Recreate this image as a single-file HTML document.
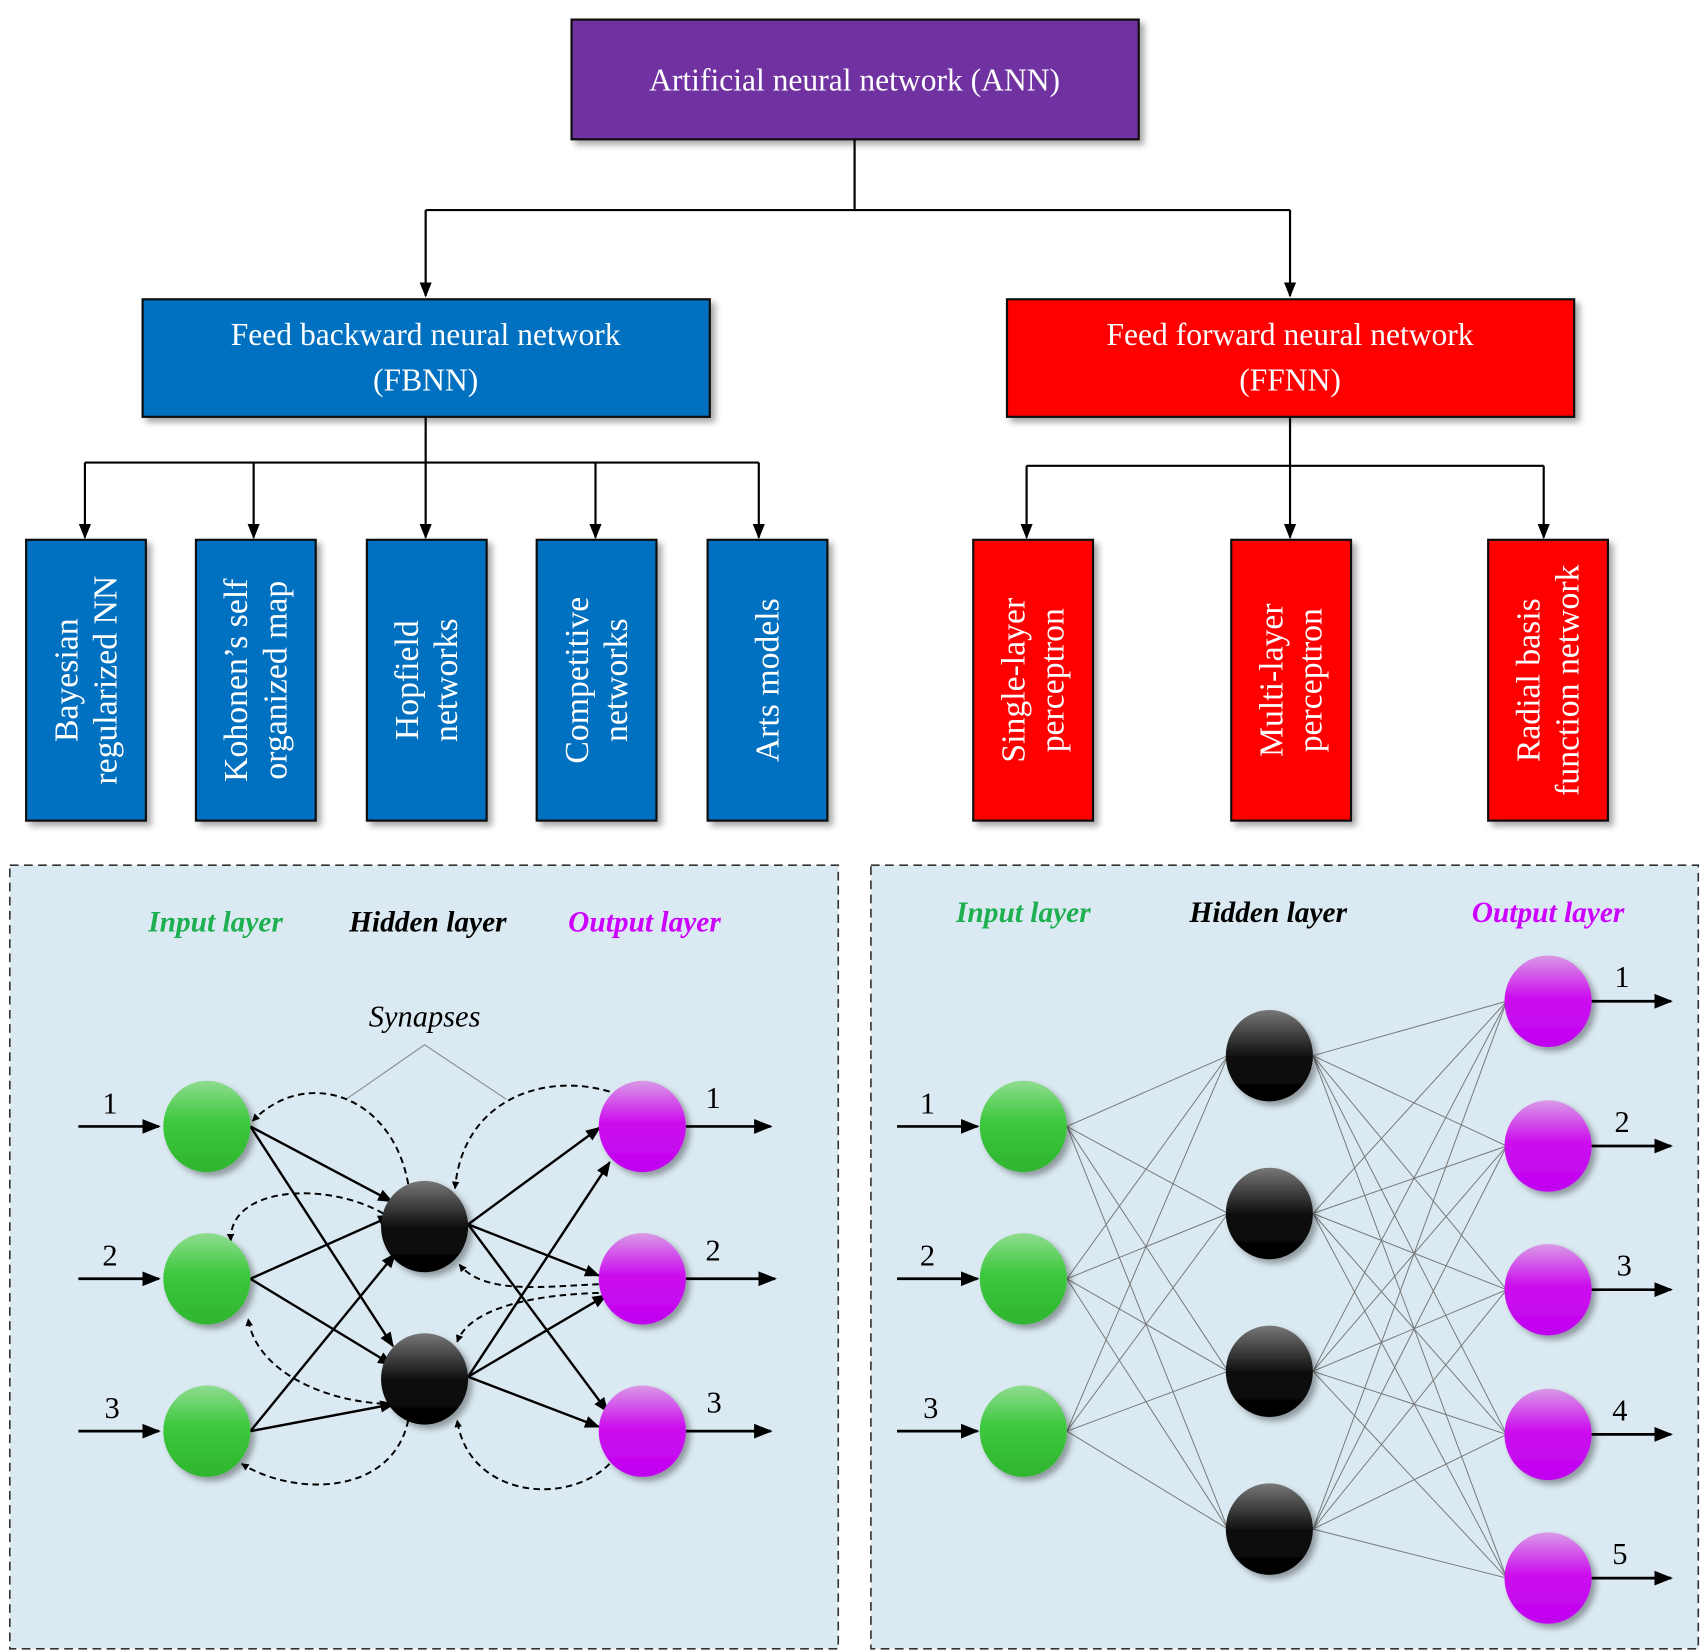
<!DOCTYPE html>
<html><head><meta charset="utf-8"><style>html,body{margin:0;padding:0;background:#fff}svg{display:block}</style></head>
<body>
<svg width="1707" height="1651" viewBox="0 0 1568 1517" preserveAspectRatio="none" xmlns="http://www.w3.org/2000/svg" font-family="'Liberation Serif', serif">
<defs>
<marker id="a" viewBox="0 0 10 10" refX="9" refY="5" markerWidth="7" markerHeight="7" orient="auto" markerUnits="userSpaceOnUse"><path d="M0,0L10,5L0,10z" fill="#000"/></marker>
<marker id="b" viewBox="0 0 10 10" refX="9" refY="5" markerWidth="14" markerHeight="14" orient="auto" markerUnits="userSpaceOnUse"><path d="M0,1L10,5L0,9z" fill="#000"/></marker>
<marker id="c" viewBox="0 0 10 10" refX="9" refY="5" markerWidth="17" markerHeight="17" orient="auto" markerUnits="userSpaceOnUse"><path d="M0,1L10,5L0,9z" fill="#000"/></marker>
<linearGradient id="g" x1="0" y1="0" x2="0" y2="1"><stop offset="0" stop-color="#8fdc8f"/><stop offset="0.45" stop-color="#3cc83c"/><stop offset="1" stop-color="#2fb52f"/></linearGradient>
<linearGradient id="k" x1="0" y1="0" x2="0" y2="1"><stop offset="0" stop-color="#777"/><stop offset="0.5" stop-color="#111"/><stop offset="1" stop-color="#000"/></linearGradient>
<linearGradient id="m" x1="0" y1="0" x2="0" y2="1"><stop offset="0" stop-color="#d99ae6"/><stop offset="0.45" stop-color="#cc11ee"/><stop offset="1" stop-color="#c000f0"/></linearGradient>
<filter id="s" x="-20%" y="-20%" width="150%" height="150%"><feDropShadow dx="4" dy="4" stdDeviation="3" flood-color="#000" flood-opacity="0.35"/></filter>
</defs>
<g filter="url(#s)" stroke="#111" stroke-width="2">
<rect x="525" y="18" width="521" height="110" fill="#7030a0"/>
<rect x="131" y="275" width="521" height="108" fill="#0070c0"/>
<rect x="925" y="275" width="521" height="108" fill="#ff0000"/>
<rect x="24" y="496" width="110" height="258" fill="#0070c0"/>
<rect x="180" y="496" width="110" height="258" fill="#0070c0"/>
<rect x="337" y="496" width="110" height="258" fill="#0070c0"/>
<rect x="493" y="496" width="110" height="258" fill="#0070c0"/>
<rect x="650" y="496" width="110" height="258" fill="#0070c0"/>
<rect x="894" y="496" width="110" height="258" fill="#ff0000"/>
<rect x="1131" y="496" width="110" height="258" fill="#ff0000"/>
<rect x="1367" y="496" width="110" height="258" fill="#ff0000"/>
</g>
<g fill="#fff" font-size="29" text-anchor="middle">
<text x="785" y="83">Artificial neural network (ANN)</text>
<text x="391" y="317">Feed backward neural network</text>
<text x="391" y="359">(FBNN)</text>
<text x="1185" y="317">Feed forward neural network</text>
<text x="1185" y="359">(FFNN)</text>
</g>
<g fill="#fff" font-size="31" text-anchor="middle">
<g transform="translate(79,625) rotate(-90)"><text y="-8">Bayesian</text><text y="28">regularized NN</text></g>
<g transform="translate(235,625) rotate(-90)"><text y="-8">Kohonen’s self</text><text y="28">organized map</text></g>
<g transform="translate(392,625) rotate(-90)"><text y="-8">Hopfield</text><text y="28">networks</text></g>
<g transform="translate(548,625) rotate(-90)"><text y="-8">Competitive</text><text y="28">networks</text></g>
<g transform="translate(705,625) rotate(-90)"><text y="10">Arts models</text></g>
<g transform="translate(949,625) rotate(-90)"><text y="-8">Single-layer</text><text y="28">perceptron</text></g>
<g transform="translate(1186,625) rotate(-90)"><text y="-8">Multi-layer</text><text y="28">perceptron</text></g>
<g transform="translate(1422,625) rotate(-90)"><text y="-8">Radial basis</text><text y="28">function network</text></g>
</g>
<g stroke="#000" stroke-width="2" fill="none">
<path d="M785,128V193M391,193H1185"/>
<path d="M391,383V425M78,425H697M1185,383V428M943,428H1418"/>
</g>
<g stroke="#000" stroke-width="2" fill="none" marker-end="url(#b)">
<path d="M391,193V272"/><path d="M1185,193V272"/>
<path d="M78,425V494"/><path d="M233,425V494"/><path d="M391,425V494"/><path d="M547,425V494"/><path d="M697,425V494"/>
<path d="M943,428V494"/><path d="M1185,428V494"/><path d="M1418,428V494"/>
</g>
<rect x="9" y="795" width="761" height="720" fill="#dbeaf2" stroke="#333" stroke-width="1.5" stroke-dasharray="8,5"/>
<rect x="800" y="795" width="760" height="720" fill="#dbeaf2" stroke="#333" stroke-width="1.5" stroke-dasharray="8,5"/>
<g font-size="27" font-style="italic" font-weight="bold" text-anchor="middle">
<text x="198" y="856" fill="#1eb050">Input layer</text>
<text x="393" y="856" fill="#000">Hidden layer</text>
<text x="592" y="856" fill="#cc00ff">Output layer</text>
<text x="940" y="847" fill="#1eb050">Input layer</text>
<text x="1165" y="847" fill="#000">Hidden layer</text>
<text x="1422" y="847" fill="#cc00ff">Output layer</text>
</g>
<text x="390" y="943" font-size="28" font-style="italic" text-anchor="middle">Synapses</text>
<path d="M318,1010L390,960L465,1010" stroke="#888" stroke-width="1" fill="none"/>
<g stroke="#000" stroke-width="2.5" fill="none" marker-end="url(#c)">
<path d="M72,1035H146"/><path d="M72,1175H146"/><path d="M72,1315H146"/>
<path d="M630,1035H708"/><path d="M630,1175H712"/><path d="M630,1315H708"/>
<path d="M824,1035H898"/><path d="M824,1175H898"/><path d="M824,1315H898"/>
<path d="M1462,920H1535"/><path d="M1462,1053H1535"/><path d="M1462,1185H1535"/><path d="M1462,1318H1535"/><path d="M1462,1450H1535"/>
</g>
<g stroke="#000" stroke-width="2.2" fill="none" marker-end="url(#b)">
<path d="M230,1035L360,1104"/><path d="M230,1035L361,1237"/>
<path d="M230,1175L360,1117"/><path d="M230,1175L360,1254"/>
<path d="M230,1315L363,1152"/><path d="M230,1315L362,1290"/>
<path d="M430,1125L551,1036"/><path d="M430,1125L550,1172"/><path d="M430,1125L558,1297"/>
<path d="M430,1265L560,1068"/><path d="M430,1265L557,1190"/><path d="M430,1265L550,1311"/>
</g>
<g stroke="#000" stroke-width="1.8" fill="none" stroke-dasharray="6,4" marker-end="url(#a)">
<path d="M375,1088C360,1005 280,980 232,1030"/>
<path d="M560,1003C500,985 425,1010 418,1092"/>
<path d="M352,1115C300,1085 210,1090 212,1140"/>
<path d="M550,1180C500,1182 445,1190 422,1162"/>
<path d="M550,1188C480,1190 430,1205 420,1233"/>
<path d="M362,1290C300,1290 235,1260 228,1212"/>
<path d="M375,1305C360,1375 270,1375 222,1345"/>
<path d="M560,1345C520,1385 430,1375 420,1305"/>
</g>
<g filter="url(#s)">
<ellipse cx="190" cy="1035" rx="40" ry="42" fill="url(#g)"/>
<ellipse cx="190" cy="1175" rx="40" ry="42" fill="url(#g)"/>
<ellipse cx="190" cy="1315" rx="40" ry="42" fill="url(#g)"/>
<ellipse cx="390" cy="1127" rx="40" ry="42" fill="url(#k)"/>
<ellipse cx="390" cy="1267" rx="40" ry="42" fill="url(#k)"/>
<ellipse cx="590" cy="1035" rx="40" ry="42" fill="url(#m)"/>
<ellipse cx="590" cy="1175" rx="40" ry="42" fill="url(#m)"/>
<ellipse cx="590" cy="1315" rx="40" ry="42" fill="url(#m)"/>
</g>
<g font-size="28" text-anchor="middle">
<text x="101" y="1023">1</text><text x="101" y="1163">2</text><text x="103" y="1303">3</text>
<text x="655" y="1018">1</text><text x="655" y="1158">2</text><text x="656" y="1298">3</text>
<text x="852" y="1023">1</text><text x="852" y="1163">2</text><text x="855" y="1303">3</text>
<text x="1490" y="907">1</text><text x="1490" y="1040">2</text><text x="1492" y="1172">3</text><text x="1488" y="1305">4</text><text x="1488" y="1437">5</text>
</g>
<g stroke="#777" stroke-width="0.9" fill="none">
<path d="M980,1035L1128,970M980,1035L1128,1115M980,1035L1128,1260M980,1035L1128,1405
M980,1175L1128,970M980,1175L1128,1115M980,1175L1128,1260M980,1175L1128,1405
M980,1315L1128,970M980,1315L1128,1115M980,1315L1128,1260M980,1315L1128,1405"/>
<path d="M1206,970L1384,920M1206,970L1384,1053M1206,970L1384,1185M1206,970L1384,1318M1206,970L1384,1450
M1206,1115L1384,920M1206,1115L1384,1053M1206,1115L1384,1185M1206,1115L1384,1318M1206,1115L1384,1450
M1206,1260L1384,920M1206,1260L1384,1053M1206,1260L1384,1185M1206,1260L1384,1318M1206,1260L1384,1450
M1206,1405L1384,920M1206,1405L1384,1053M1206,1405L1384,1185M1206,1405L1384,1318M1206,1405L1384,1450"/>
</g>
<g filter="url(#s)">
<ellipse cx="940" cy="1035" rx="40" ry="42" fill="url(#g)"/>
<ellipse cx="940" cy="1175" rx="40" ry="42" fill="url(#g)"/>
<ellipse cx="940" cy="1315" rx="40" ry="42" fill="url(#g)"/>
<ellipse cx="1166" cy="970" rx="40" ry="42" fill="url(#k)"/>
<ellipse cx="1166" cy="1115" rx="40" ry="42" fill="url(#k)"/>
<ellipse cx="1166" cy="1260" rx="40" ry="42" fill="url(#k)"/>
<ellipse cx="1166" cy="1405" rx="40" ry="42" fill="url(#k)"/>
<ellipse cx="1422" cy="920" rx="40" ry="42" fill="url(#m)"/>
<ellipse cx="1422" cy="1053" rx="40" ry="42" fill="url(#m)"/>
<ellipse cx="1422" cy="1185" rx="40" ry="42" fill="url(#m)"/>
<ellipse cx="1422" cy="1318" rx="40" ry="42" fill="url(#m)"/>
<ellipse cx="1422" cy="1450" rx="40" ry="42" fill="url(#m)"/>
</g>
</svg>
</body></html>
